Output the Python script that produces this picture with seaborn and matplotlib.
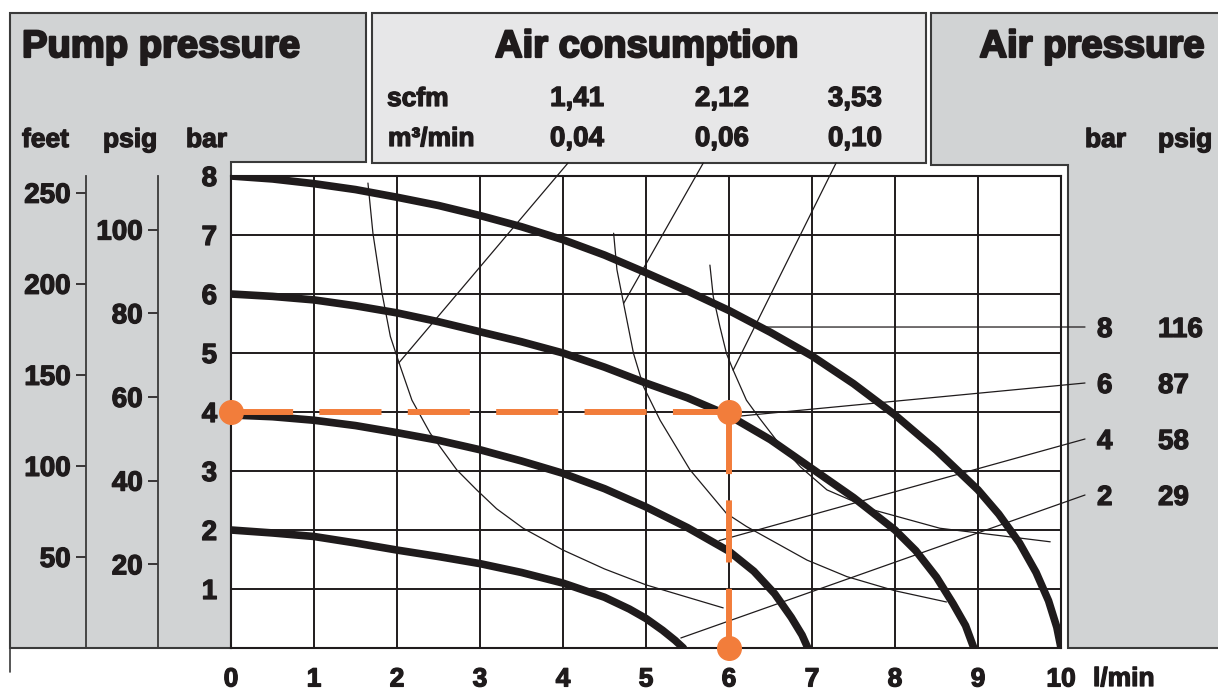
import pandas as pd
import matplotlib.pyplot as plt
import matplotlib.patheffects as pe
import seaborn as sns
from matplotlib.patches import Polygon, Rectangle

# pump curves: flow (l/min) vs pump pressure (bar), one per air pressure
flow_8bar = [0, 0.5, 1, 1.5, 2, 2.5, 3, 3.5, 4, 4.5, 5, 5.5, 6, 6.5, 7, 7.5, 8, 8.5, 9,
             9.25, 9.5, 9.7, 9.85, 9.95, 10]
head_8bar = [8.0, 7.95, 7.87, 7.77, 7.64, 7.5, 7.33, 7.14, 6.92, 6.66, 6.36, 6.05, 5.72, 5.35,
             4.95, 4.48, 3.95, 3.35, 2.68, 2.27, 1.78, 1.28, 0.8, 0.35, 0]
flow_6bar = [0, 0.5, 1, 1.5, 2, 2.5, 3, 3.5, 4, 4.5, 5, 5.5, 6, 6.5, 7, 7.5, 8,
             8.25, 8.5, 8.7, 8.85, 8.95]
head_6bar = [6.0, 5.96, 5.9, 5.8, 5.68, 5.53, 5.36, 5.19, 5.0, 4.76, 4.49, 4.24, 3.94, 3.53,
             3.04, 2.55, 2.0, 1.65, 1.2, 0.75, 0.38, 0]
flow_4bar = [0, 0.5, 1, 1.5, 2, 2.5, 3, 3.5, 4, 4.5, 5, 5.5, 6, 6.3, 6.55, 6.75, 6.88, 6.95]
head_4bar = [3.95, 3.92, 3.86, 3.77, 3.65, 3.52, 3.36, 3.17, 2.96, 2.7, 2.39, 2.04, 1.64,
             1.3, 0.92, 0.52, 0.22, 0]
flow_2bar = [0, 0.5, 1, 1.5, 2, 2.5, 3, 3.5, 4, 4.5, 4.8, 5, 5.2, 5.35, 5.45]
head_2bar = [2.0, 1.95, 1.89, 1.78, 1.66, 1.55, 1.43, 1.28, 1.1, 0.86, 0.66, 0.5, 0.3, 0.13, 0]

# air consumption curves (thin)
flow_004 = [1.65, 1.71, 1.82, 1.92, 2.04, 2.18, 2.4, 2.72, 2.96, 3.2, 3.52, 4.0, 4.5, 5.0,
            5.5, 5.93]
head_004 = [7.88, 7.03, 6.01, 5.28, 4.77, 4.2, 3.64, 3.02, 2.68, 2.36, 2.03, 1.66, 1.34, 1.07,
            0.86, 0.68]
flow_006 = [4.61, 4.65, 4.73, 4.85, 4.97, 5.17, 5.53, 5.97, 6.21, 6.94, 7.42, 8.0, 8.62]
head_006 = [7.03, 6.41, 5.84, 4.99, 4.43, 3.86, 3.02, 2.28, 2.06, 1.49, 1.21, 0.97, 0.78]
flow_010 = [5.77, 5.81, 5.89, 5.97, 6.05, 6.21, 6.37, 6.6, 6.86, 7.18, 7.74, 8.54, 9.87]
head_010 = [6.49, 5.96, 5.45, 4.99, 4.71, 4.2, 3.89, 3.47, 3.07, 2.68, 2.34, 2.03, 1.8]

air_bar = ["8", "6", "4", "2"]
air_psig = ["116", "87", "58", "29"]
air_anchor_flow = [6.33, 6.05, 5.88, 5.42]
air_anchor_head = [5.44, 3.92, 1.82, 0.17]

scfm = ["1,41", "2,12", "3,53"]
m3min = ["0,04", "0,06", "0,10"]
cons_leader_top = [4.06, 5.69, 7.29]
cons_anchor_flow = [2.02, 4.73, 6.05]
cons_anchor_head = [4.83, 5.84, 4.71]

op_flow = 6
op_head = 4

feet_ticks = [50, 100, 150, 200, 250]
psig_ticks = [20, 40, 60, 80, 100]
FEET_PER_BAR = 32.4
PSIG_PER_BAR = 14.1

sns.set_style("white")
plt.rcParams['font.family'] = ['Liberation Sans', 'DejaVu Sans']
plt.rcParams['font.weight'] = 'bold'

W, H = 1218, 691
fig = plt.figure(figsize=(W / 100, H / 100), dpi=100)
PX_L, PX_R, PX_B, PX_T = 231, 1061, 648, 176
INK = '#1f1b1c'
GRAY = '#d1d3d4'
LIGHT = '#e7e7e8'
EDGE = '#3a3a3a'
ORANGE = '#f27d3b'
heavy = [pe.withStroke(linewidth=1.6, foreground=INK)]
semi = [pe.withStroke(linewidth=0.9, foreground=INK)]


def fig_rect(l, r, b, t):
    return [l / W, 1 - b / H, (r - l) / W, (b - t) / H]


def px2data(xp, yp):
    return ((xp - PX_L) / (PX_R - PX_L) * 10, (PX_B - yp) / (PX_B - PX_T) * 8)


# background panels in pixel coordinates
bg = fig.add_axes([0, 0, 1, 1], zorder=0)
bg.set_xlim(0, W)
bg.set_ylim(H, 0)
bg.axis('off')
bg.add_patch(Polygon([(10, 13), (366, 13), (366, 162), (231, 162), (231, 648), (10, 648)],
                     closed=True, fc=GRAY, ec=EDGE, lw=1.5))
bg.add_patch(Rectangle((372, 13), 554, 150, fc=LIGHT, ec=EDGE, lw=1.5))
bg.add_patch(Polygon([(931, 13), (1240, 13), (1240, 648), (1068, 648), (1068, 165), (931, 165)],
                     closed=True, fc=GRAY, ec=EDGE, lw=1.5))
bg.plot([10, 10], [648, 672], color=EDGE, lw=1.2)

kw = dict(color=INK, va='baseline')
bg.text(22, 57, "Pump pressure", fontsize=27.5, ha='left', path_effects=heavy, **kw)
bg.text(647, 57, "Air consumption", fontsize=27.5, ha='center', path_effects=heavy, **kw)
bg.text(1205, 57, "Air pressure", fontsize=27.5, ha='right', path_effects=heavy, **kw)
for x, s in [(22, "feet"), (103, "psig"), (186, "bar"), (1085, "bar"), (1158, "psig")]:
    bg.text(x, 147, s, fontsize=19, ha='left', path_effects=semi, **kw)
bg.text(387, 106, "scfm", fontsize=19, ha='left', path_effects=semi, **kw)
bg.text(388, 146, "m³/min", fontsize=19, ha='left', path_effects=semi, **kw)
for i, xc in enumerate([577, 722, 855]):
    bg.text(xc, 106, scfm[i], fontsize=20, ha='center', path_effects=semi, **kw)
    bg.text(xc, 146, m3min[i], fontsize=20, ha='center', path_effects=semi, **kw)
for i in range(len(air_bar)):
    bg.text(1097, 337 + 56 * i, air_bar[i], fontsize=20, ha='left', path_effects=semi, **kw)
    bg.text(1158, 337 + 56 * i, air_psig[i], fontsize=20, ha='left', path_effects=semi, **kw)
bg.text(1093, 686, "l/min", fontsize=19, ha='left', path_effects=semi, **kw)

# main chart
ax = fig.add_axes(fig_rect(PX_L, PX_R, PX_B, PX_T), zorder=2)
ax.set_facecolor('white')

pump = pd.concat([
    pd.DataFrame({"flow": f, "head": h, "air": a})
    for f, h, a in [(flow_8bar, head_8bar, 8), (flow_6bar, head_6bar, 6),
                    (flow_4bar, head_4bar, 4), (flow_2bar, head_2bar, 2)]
])
cons = pd.concat([
    pd.DataFrame({"flow": f, "head": h, "m3": m})
    for f, h, m in [(flow_004, head_004, 0.04), (flow_006, head_006, 0.06),
                    (flow_010, head_010, 0.10)]
])
sns.lineplot(data=cons, x="flow", y="head", units="m3", estimator=None, sort=False,
             color=INK, lw=0.9, ax=ax, legend=False, zorder=2)
sns.lineplot(data=pump, x="flow", y="head", units="air", estimator=None, sort=False,
             color=INK, lw=5.5, ax=ax, legend=False, zorder=3)
for line in ax.get_lines():
    line.set_solid_joinstyle('round')

# leader lines
for i in range(len(air_bar)):
    lx, ly = px2data(1085, 327 + 56 * i)
    ax.plot([air_anchor_flow[i], lx], [air_anchor_head[i], ly], color=INK, lw=0.9,
            clip_on=False, zorder=2)
for i in range(len(m3min)):
    _, ty = px2data(0, 163)
    ax.plot([cons_leader_top[i], cons_anchor_flow[i]], [ty, cons_anchor_head[i]],
            color=INK, lw=0.9, clip_on=False, zorder=2)

# operating point
ax.plot([0, op_flow], [op_head, op_head], color=ORANGE, lw=4.3, dashes=(10.4, 4.4), zorder=5)
ax.plot([op_flow, op_flow], [op_head, 0], color=ORANGE, lw=4.3, dashes=(10.4, 4.4), zorder=5)
ax.plot([0, op_flow, op_flow], [op_head, op_head, 0], ls='none', marker='o', ms=17,
        color=ORANGE, clip_on=False, zorder=6)

ax.set_xlim(0, 10)
ax.set_ylim(0, 8)
ax.set_xticks(range(11))
ax.set_yticks(range(9))
ax.set_yticklabels([''] + [str(v) for v in range(1, 9)])
ax.grid(True, color=INK, lw=1.4)
ax.set_axisbelow(True)
ax.tick_params(length=0, labelsize=20, colors=INK)
ax.tick_params(axis='x', pad=14, labelsize=19)
ax.tick_params(axis='y', pad=10)
ax.set_xlabel('')
ax.set_ylabel('')
for lab in ax.get_xticklabels() + ax.get_yticklabels():
    lab.set_path_effects(semi)
for sp in ax.spines.values():
    sp.set_visible(True)
    sp.set_color(INK)
    sp.set_linewidth(1.5)

# secondary pressure scales on the left
for xp, ticks, per_bar in [(86, feet_ticks, FEET_PER_BAR), (158, psig_ticks, PSIG_PER_BAR)]:
    sax = fig.add_axes(fig_rect(xp, xp + 1, PX_B, PX_T), zorder=1)
    sax.patch.set_visible(False)
    sax.set_ylim(0, 8 * per_bar)
    sax.set_yticks(ticks)
    sax.set_xticks([])
    for name, sp in sax.spines.items():
        sp.set_visible(name == 'left')
    sax.spines['left'].set_color(EDGE)
    sax.spines['left'].set_linewidth(1.3)
    sax.tick_params(axis='y', left=True, direction='out', length=7, width=1.2, pad=4,
                    labelsize=20, colors=INK)
    for lab in sax.get_yticklabels():
        lab.set_path_effects(semi)

fig.savefig("out.png", dpi=100)
